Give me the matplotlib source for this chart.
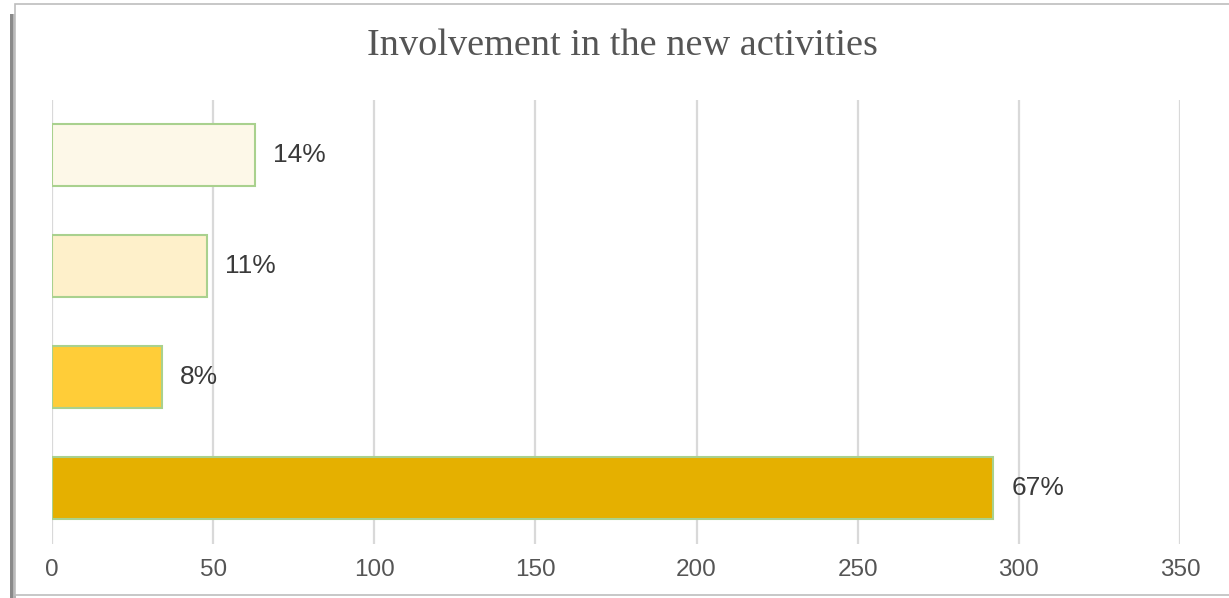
import matplotlib
matplotlib.use('Agg')
import matplotlib.pyplot as plt
from matplotlib.patches import Rectangle

# data, top to bottom as shown
values = [63, 48, 34, 292]
labels = ['14%', '11%', '8%', '67%']
colors = ['#FDF8E8', '#FEF0CA', '#FFCD38', '#E5B000']
xticks = [0, 50, 100, 150, 200, 250, 300, 350]

fig = plt.figure(figsize=(12.29, 5.98), dpi=100)

# card frame with a soft shadow on the left
W, H = 1229, 598
fig.patches.append(Rectangle((10 / W, 0), 4 / W, 1 - 14 / H, transform=fig.transFigure,
                             facecolor='#8a8a8a', edgecolor='none', zorder=-3))
fig.patches.append(Rectangle((13 / W, 0), 3 / W, 1 - 14 / H, transform=fig.transFigure,
                             facecolor='#b5b5b5', edgecolor='none', zorder=-2))
fig.patches.append(Rectangle((15 / W, 3 / H), 1.2, 1 - 7 / H, transform=fig.transFigure,
                             facecolor='white', edgecolor='#bdbdbd', linewidth=1.2, zorder=-1))

ax = fig.add_axes([52 / W, 1 - 543.5 / H, (1180 - 52) / W, 444 / H])
ax.set_zorder(2)
ax.set_facecolor('none')

ypos = list(range(len(values)))
ax.barh(ypos, values, height=0.56, color=colors, edgecolor='#A9D18E', linewidth=1.5, zorder=3)

for y, v, lab in zip(ypos, values, labels):
    ax.annotate(lab, (v, y), xytext=(13, 0), textcoords='offset points',
                va='center', ha='left', fontsize=19, color='#3a3a3a',
                family='Liberation Sans', zorder=4)

ax.set_xlim(0, 350)
ax.set_ylim(3.5, -0.5)
ax.set_xticks(xticks)
ax.set_yticks([])
ax.grid(axis='x', color='#d9d9d9', linewidth=1.6, zorder=0)
for s in ax.spines.values():
    s.set_visible(False)
ax.tick_params(axis='x', length=0, pad=11.5, labelsize=17.5, labelcolor='#555555')
for t in ax.get_xticklabels():
    t.set_family('Liberation Sans')

fig.text(0.5065, 1 - 46 / H, 'Involvement in the new activities', ha='center', va='center',
         fontsize=27.5, color='#555555', family='Liberation Serif', zorder=3)

fig.savefig('out.png', dpi=100)
